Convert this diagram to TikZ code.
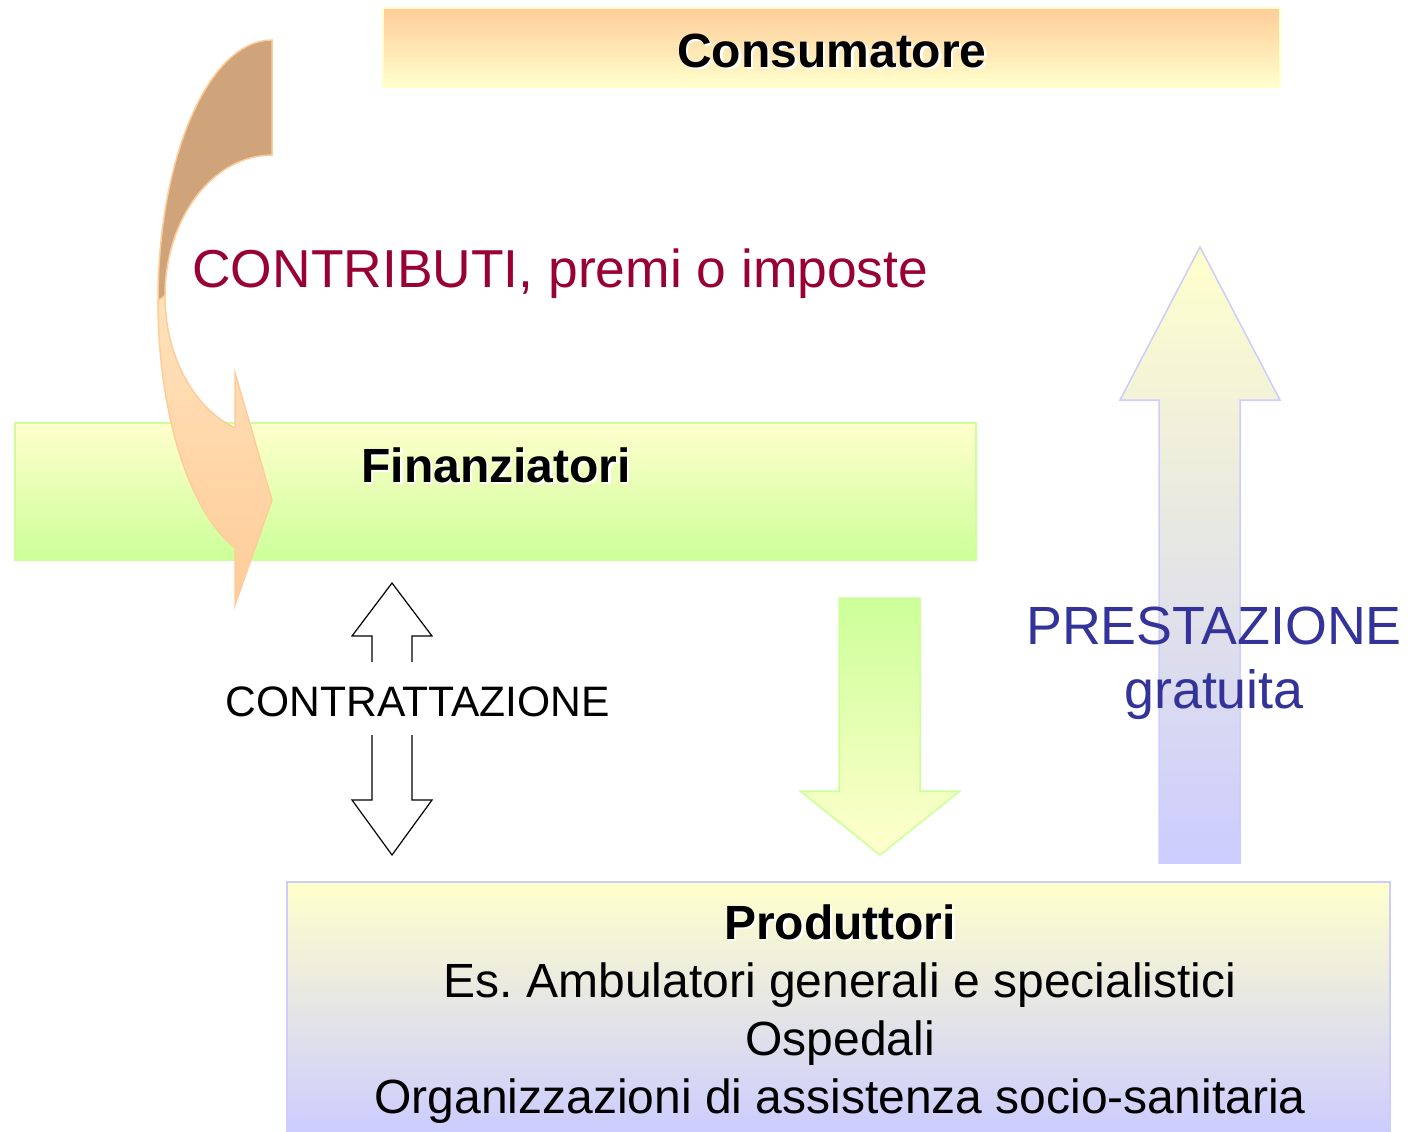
\documentclass[tikz,border=0pt]{standalone}
\usepackage{fontspec}
\setmainfont{Liberation Sans}
\usepackage{xcolor}
\usepackage{tikz}

\definecolor{peach}{HTML}{FFCC99}
\definecolor{lightpeach}{HTML}{FFE2BA}
\definecolor{tailbrown}{HTML}{CFA47B}
\definecolor{cream}{HTML}{FFFFCC}
\definecolor{lime}{HTML}{CCFF99}
\definecolor{lavender}{HTML}{CCCCFF}
\definecolor{crimson}{HTML}{990033}
\definecolor{indigo}{HTML}{333399}

\newcommand{\shadowed}[1]{\makebox[0pt][l]{\hspace*{1.2pt}\raisebox{-1.2pt}{\textcolor{white}{#1}}}#1}
\frenchspacing

\begin{document}
\begin{tikzpicture}[
x=0.5pt, y=-0.5pt,
box/.style={draw, line width=0.75pt, inner sep=0pt, outer sep=0pt, anchor=north west},
consbox/.style={box, draw=cream, top color=peach, bottom color=cream},
finbox/.style={box, draw=lime, top color=cream, bottom color=lime},
prodbox/.style={box, draw=lavender, top color=cream, bottom color=lavender},
txt/.style={anchor=base, inner sep=0pt, font=\fontsize{24pt}{29pt}\selectfont},
heading/.style={txt, font=\fontsize{24pt}{29pt}\selectfont\bfseries},
big/.style={txt, font=\fontsize{26.9pt}{32pt}\selectfont},
downblock/.style={draw=lime, line width=0.75pt, top color=lime, bottom color=cream},
upblock/.style={draw=lavender, line width=0.75pt, top color=cream, bottom color=lavender},
hollow/.style={draw=black, line width=0.6pt, fill=white, line join=miter}
]
\path[fill=white, use as bounding box] (0,0) rectangle (1408,1131);

% Boxes
\node[consbox, minimum width=448.5pt, minimum height=39.5pt] (cons) at (383,8) {};
\node[finbox, minimum width=480.5pt, minimum height=68.5pt] (fin) at (15,423) {};
\node[prodbox, minimum width=551.5pt, minimum height=125.5pt] (prod) at (287,882) {};

% Block arrows
\path[downblock] (839,598) -- (920,598) -- (920,791) -- (960,791) -- (880,855)
  -- (800,791) -- (839,791) -- cycle;
\path[upblock] (1200,247) -- (1280,400) -- (1240,400) -- (1240,863) -- (1159,863)
  -- (1159,400) -- (1120,400) -- cycle;

% Contrattazione
\draw[hollow] (372,662) -- (372,636) -- (352,636) -- (392,583) -- (432,636) -- (412,636) -- (412,662);
\draw[hollow] (372,735) -- (372,800) -- (352,800) -- (392,855) -- (432,800) -- (412,800) -- (412,735);

% Curved arrow
\path[draw=peach, line width=0.75pt, fill=tailbrown]
  (272,40) arc[start angle=-90, end angle=-180, x radius=114, y radius=261]
  -- (165,296) arc[start angle=180, end angle=270, x radius=107, y radius=140.9] -- cycle;
\path[draw=peach, line width=0.75pt, top color=lightpeach, bottom color=peach]
  (158,301) arc[start angle=180, end angle=108.9, x radius=114, y radius=261]
  -- (235,605) -- (272,500) -- (235,373) -- (235,428)
  arc[start angle=110.2, end angle=180, x radius=107, y radius=140.9] -- cycle;

% Labels
\node[heading] (constext) at (832,67) {\shadowed{Consumatore}};
\node[heading] (fintext) at (496,482) {\shadowed{Finanziatori}};
\node[big, anchor=base west, text=crimson, font=\fontsize{26.7pt}{32pt}\selectfont] (contrib) at (192,287) {CONTRIBUTI, premi o imposte};
\node[txt, font=\fontsize{21.3pt}{25pt}\selectfont] (contratt) at (418,716) {CONTRATTAZIONE};
\node[big, text=indigo] (prest) at (1214,644) {PRESTAZIONE};
\node[big, text=indigo] (gratis) at (1214,708) {gratuita};

\node[heading] (prodtext) at (840,939) {\shadowed{Produttori}};
\node[txt] (amb) at (840,997) {Es. Ambulatori generali e specialistici};
\node[txt] (osp) at (840,1055) {Ospedali};
\node[txt] (org) at (840,1113) {Organizzazioni di assistenza socio-sanitaria};

\end{tikzpicture}
\end{document}
